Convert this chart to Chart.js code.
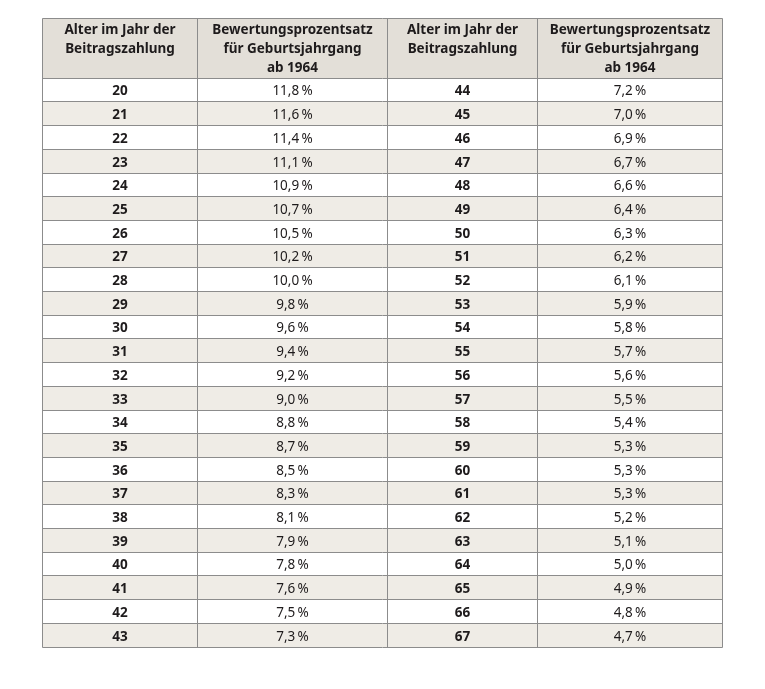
<!DOCTYPE html>
<html>
<head>
<meta charset="utf-8">
<script src="https://cdn.jsdelivr.net/npm/chart.js@4.4.1/dist/chart.umd.min.js"></script>
<style>
html,body{margin:0;padding:0;background:#fff;}
#wrap{width:765px;height:689px;}
</style>
</head>
<body>
<div id="wrap"><canvas id="tbl" width="765" height="689"></canvas></div>
<script>
// table data
const headerAge=["Alter im Jahr der","Beitragszahlung"];
const headerRate=["Bewertungsprozentsatz","für Geburtsjahrgang","ab 1964"];

const agesLeft=[20,21,22,23,24,25,26,27,28,29,30,31,32,33,34,35,36,37,38,39,40,41,42,43];
const ratesLeft=[11.8,11.6,11.4,11.1,10.9,10.7,10.5,10.2,10.0,9.8,9.6,9.4,9.2,9.0,8.8,8.7,8.5,8.3,8.1,7.9,7.8,7.6,7.5,7.3];
const agesRight=[44,45,46,47,48,49,50,51,52,53,54,55,56,57,58,59,60,61,62,63,64,65,66,67];
const ratesRight=[7.2,7.0,6.9,6.7,6.6,6.4,6.3,6.2,6.1,5.9,5.8,5.7,5.6,5.5,5.4,5.3,5.3,5.3,5.2,5.1,5.0,4.9,4.8,4.7];

// layout (scale units)
const colEdges=[42.5,197.5,387.5,537.5,722.5];
const headerTop=-2.53;
const headerLines=[-2.04,-1.23,-0.42];
const rowCount=agesLeft.length;

const FONT="'Noto Sans', sans-serif";
const fmt=v=>v.toFixed(1).replace(".",",")+"\u2009%";
const mid=i=>(colEdges[i]+colEdges[i+1])/2;

const datasets=[
{label:"age1",data:agesLeft.map((a,i)=>({x:mid(0),y:i+0.5})),texts:agesLeft.map(String),bold:true},
{label:"rate1",data:ratesLeft.map((v,i)=>({x:mid(1),y:i+0.5})),texts:ratesLeft.map(fmt),bold:false},
{label:"age2",data:agesRight.map((a,i)=>({x:mid(2),y:i+0.5})),texts:agesRight.map(String),bold:true},
{label:"rate2",data:ratesRight.map((v,i)=>({x:mid(3),y:i+0.5})),texts:ratesRight.map(fmt),bold:false}
].map(d=>Object.assign(d,{pointRadius:0,pointHoverRadius:0}));

const snap=p=>Math.round(p-0.5)+0.5;

const tablePlugin={
id:"tablePlugin",
beforeDatasetsDraw(chart){
const {ctx,scales:{x,y}}=chart;
const L=x.getPixelForValue(colEdges[0]);
const R=x.getPixelForValue(colEdges[colEdges.length-1]);
const T=y.getPixelForValue(headerTop);
const H=y.getPixelForValue(0);
const B=y.getPixelForValue(rowCount);
ctx.save();
// header background
ctx.fillStyle="#e3dfd8";
ctx.fillRect(L,T,R-L,H-T);
// stripes
ctx.fillStyle="#efece6";
for(let i=1;i<rowCount;i+=2){
const y0=y.getPixelForValue(i),y1=y.getPixelForValue(i+1);
ctx.fillRect(L,y0,R-L,y1-y0);
}
// grid lines
ctx.strokeStyle="#8c8c8c";
ctx.lineWidth=1;
ctx.beginPath();
for(let i=-1;i<=rowCount;i++){
const py=snap(i<0?T:y.getPixelForValue(i));
ctx.moveTo(L,py);ctx.lineTo(R,py);
}
colEdges.forEach(e=>{
const px=snap(x.getPixelForValue(e));
ctx.moveTo(px,snap(T));ctx.lineTo(px,snap(B));
});
ctx.stroke();
// header text
ctx.fillStyle="#1e1b1c";
ctx.textAlign="center";
ctx.textBaseline="middle";
ctx.font="bold 13.5px "+FONT;
[headerAge,headerRate,headerAge,headerRate].forEach((lines,c)=>{
const cx=x.getPixelForValue(mid(c));
lines.forEach((t,k)=>ctx.fillText(t,cx,y.getPixelForValue(headerLines[k])));
});
ctx.restore();
},
afterDatasetsDraw(chart){
const {ctx}=chart;
ctx.save();
ctx.fillStyle="#1e1b1c";
ctx.textAlign="center";
ctx.textBaseline="middle";
chart.data.datasets.forEach((ds,di)=>{
ctx.font=(ds.bold?"bold ":"")+"13.5px "+FONT;
chart.getDatasetMeta(di).data.forEach((pt,i)=>{
ctx.fillText(ds.texts[i],pt.x,pt.y+1.5);
});
});
ctx.restore();
}
};

new Chart(document.getElementById("tbl"),{
type:"scatter",
data:{datasets:datasets},
options:{
responsive:false,
animation:false,
events:[],
layout:{padding:0},
plugins:{legend:{display:false},tooltip:{enabled:false}},
scales:{
x:{type:"linear",display:false,min:0,max:765},
y:{type:"linear",display:false,reverse:true,min:-3.304,max:25.77}
}
},
plugins:[tablePlugin]
});
</script>
</body>
</html>
